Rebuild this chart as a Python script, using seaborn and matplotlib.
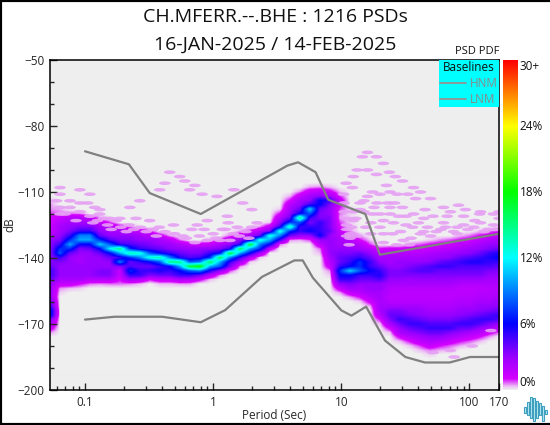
#!/usr/bin/env python3
# PSD PDF plot of CH.MFERR.--.BHE
import numpy as np
import pandas as pd
import matplotlib.pyplot as plt
import matplotlib as mpl
from matplotlib.colors import LinearSegmentedColormap
from matplotlib.lines import Line2D
from matplotlib.markers import MarkerStyle
from matplotlib.patches import Rectangle
from matplotlib.ticker import FixedLocator, FixedFormatter, NullFormatter
from matplotlib.transforms import Affine2D
import seaborn as sns

title_lines = ["CH.MFERR.--.BHE : 1216 PSDs", "16-JAN-2025 / 14-FEB-2025"]

# noise models
hnm_period = [0.1, 0.22, 0.32, 0.8, 3.8, 4.6, 6.3, 7.9, 15.4, 20, 170]
hnm_db = [-91.5, -97.4, -110.5, -120, -98, -96.5, -101, -113.5, -120, -138.5, -129]
lnm_period = [0.1, 0.17, 0.4, 0.8, 1.24, 2.4, 4.3, 5, 6, 10, 12, 15.6, 21.9, 31.6, 45, 70, 101, 170]
lnm_db = [-168, -166.7, -166.7, -169.2, -163.7, -148.6, -141.1, -141.1, -149, -163.8, -166.2, -162.1,
          -177.5, -185, -187.5, -187.5, -185, -185]

# pdf grid, one column per period, db rows every 2 dB from -104 down to -190
pdf_period = [0.0533, 0.0638, 0.0763, 0.0912, 0.1091, 0.1306, 0.1562, 0.1869, 0.2236, 0.2675,
              0.32, 0.3828, 0.4579, 0.5478, 0.6554, 0.784, 0.9379, 1.122, 1.342, 1.606,
              1.921, 2.298, 2.749, 3.289, 3.934, 4.706, 5.63, 6.735, 8.057, 9.639,
              11.53, 13.79, 16.5, 19.74, 23.62, 28.25, 33.8, 40.43, 48.37, 57.86,
              69.22, 82.81, 99.07, 118.5, 141.8, 170]
pdf_db = list(range(-104, -192, -2))

# first db row of each column, then the percent values downward from it
col_start = [5, 7, 8, 8, 9, 9, 10, 11, 11, 12, 12, 13, 13, 14, 15, 15, 14, 14, 13, 12,
             12, 11, 10, 7, 4, 3, 2, 2, 2, 3, 7, 13, 14, 16, 16, 16, 15, 15, 14, 14,
             14, 13, 13, 12, 12, 11]
col_values = [
    [.3, .5, .5, .8, 1, 1.2, 1.5, 1.5, 2, 3, 3, 3, 3, 3, 3.5, 4, 5, 5, 4, 3, 3, 3, 3, 4, 5, 7, 7, 4, 2.5, 1.5, .5],
    [.4, .6, 1.5, 2, 2.5, 2.5, 3, 3.5, 5, 7, 8, 5, 3.5, 3, 3, 3, 2.5, 1.5, .5, .2],
    [.6, 2, 2.5, 3, 3.5, 5, 7, 10, 7, 4, 3, 3, 3, 3, 3, 2.5, 1.5, .3],
    [.6, 2, 2.5, 3.5, 5, 9, 10, 6, 3.5, 3, 2.5, 2.5, 3, 3, 3, 2.5, 1, .2],
    [1.5, 2.5, 3.5, 5, 9, 10, 6, 4, 3, 3, 3, 3, 3, 3, 2, .6],
    [.5, 1.5, 2.5, 3, 4, 7, 11, 6, 4, 3, 3, 3, 3.5, 3.5, 2, .5],
    [.8, 2, 2.5, 3, 4.5, 8, 12, 6, 4, 3, 3, 3.5, 3.5, 2, .6],
    [1.3, 2.5, 3, 3.5, 5, 15, 10, 5, 9, 3.5, 1.5, 1.5, 1, .6],
    [.6, 2, 3, 3.5, 4.5, 7, 14, 7, 4, 4.5, 7, 5, 2.5, .5],
    [1.5, 2.5, 3, 4, 5, 13, 9, 5, 4, 5, 5, 2, .3],
    [1, 2, 3, 3.5, 4.5, 8, 13, 6, 4, 5, 3.5, 1],
    [1.3, 2.5, 3, 4, 6, 14, 8, 5, 5.5, 4, 1.5, .3],
    [.4, 1.8, 2.8, 3.2, 5, 9, 15, 6, 5, 4, 1.5, .3],
    [.6, 2.2, 3, 4, 5.5, 15, 10, 6, 5, 2.2, .4],
    [1.5, 2.8, 3.5, 4.5, 8, 17, 8, 5, 2, .4],
    [1.2, 3, 3.5, 5, 9, 18, 9, 4, 1.2],
    [.3, 1.5, 3, 5, 7, 16, 10, 5.5, 2, .3],
    [.8, 2.2, 3.5, 6, 16, 10, 8, 3, .5],
    [.6, 1.8, 3, 5, 17, 9, 5, 3.5, .8],
    [.4, 1.4, 3, 5, 16, 10, 5, 2.5, .5],
    [1, 2.5, 4.5, 17, 10, 6, 2, .2],
    [.5, 2, 4, 13, 9, 7, 2.5, .2],
    [.2, 1.5, 3.5, 13, 10, 6, 1.5],
    [.2, 1, 2, 3, 5, 13, 9, 5, .6],
    [.3, 1, 2, 2.5, 3, 4, 7, 14, 7, 4, .5],
    [.5, 1.5, 2.5, 3, 4, 6, 15, 8, 5, 5, 3, .4],
    [.4, 1.5, 2.5, 3, 5, 11, 8, 5, 3.5, 5, 6, 3, .8],
    [.5, 1.8, 3, 6, 6, 4, 3.5, 3.5, 5, 5, 5, 6, 3, 1.8, .6, .3],
    [.3, 1.2, 2.5, 5, 3.5, 3, 3, 3.5, 3.5, 3.5, 4, 3, 3, 3, 3, 3, 2.5, 2, 1.5, .5, .2],
    [.3, .8, 1.5, 1.2, .8, .6, .4, .8, 1, 1.5, 2, 2.5, 2.5, 3, 3.5, 4, 4, 5, 7, 6, 5, 3, 1.5, .4],
    [.2, .2, .2, .2, .3, .5, 1.2, 2, 2.5, 3, 3.5, 4.5, 5, 6, 11, 6, 5, 3.5, 2.8, 1.5, .4],
    [.4, 1, 2, 2.5, 4, 5, 7, 7, 8, 5, 4, 3, 2.5, 2, 1, .2],
    [.3, .8, 2, 3, 4, 5, 5, 6, 5, 4, 3, 3, 2.5, 2, 1.2, .4],
    [1, 2, 2.5, 3, 4, 5, 5.5, 4.5, 3, 3, 2.5, 2.5, 2.5, 2.5, 2.5, 2, 1, .3],
    [1.2, 2, 2.5, 2.5, 3, 3.5, 3.5, 3, 2.5, 2, 2, 1.8, 2, 2.5, 3.5, 4, 3.5, 2.5, 1.2, .3],
    [1.2, 2, 2.5, 3, 3, 3.5, 3.5, 3, 2.5, 2, 1.8, 1.8, 2, 2.5, 3.5, 4, 5, 4, 3, 2.5, 1.2, .3],
    [.5, 1.3, 2, 2.5, 3, 3.5, 4, 3.5, 2.8, 2.5, 2, 1.8, 1.8, 2, 2.5, 3, 3.5, 4.5, 5, 4, 3, 2, 1, .3],
    [.7, 1.4, 2, 2.5, 3, 4, 4.5, 3.5, 3, 2.5, 2, 1.8, 1.8, 2, 2.5, 3, 3.2, 4, 5, 4.5, 3.5, 2.5, 1.8, .8, .3],
    [.2, 1, 1.5, 2.2, 2.8, 3.2, 4.5, 4.5, 3.5, 3, 2.5, 2, 1.8, 1.8, 2, 2.2, 2.5, 3, 3.5, 4.5, 5, 4, 3, 2.2, 1.5, .6, .2],
    [.5, 1.2, 1.8, 2.5, 3, 4, 5, 4, 3.5, 3, 2.5, 2, 1.8, 1.8, 2, 2.2, 2.5, 3, 3.5, 4.5, 5, 4, 3, 2, 1, .4],
    [.7, 1.3, 2, 2.8, 3.2, 4.5, 5, 4, 3.5, 3, 2.5, 2, 1.8, 1.8, 2, 2.2, 2.5, 3, 3.5, 4.5, 5, 3.5, 2.5, 1.5, .7, .3],
    [.3, 1, 1.8, 2.3, 3, 4, 5, 4.5, 4, 3.5, 2.8, 2.2, 1.8, 1.8, 2, 2.2, 2.5, 3, 3.2, 4, 5, 4, 3, 2, 1, .4],
    [.6, 1.2, 2, 2.8, 3.2, 4.5, 5.5, 4.5, 4, 3.5, 2.8, 2.2, 1.8, 1.8, 2, 2.2, 2.5, 3, 3.5, 4.5, 5, 4, 2.5, 1.5, .7, .2],
    [.3, 1, 1.8, 2.5, 3, 4, 5, 5.5, 4.5, 4, 3.5, 2.8, 2.2, 1.8, 2, 2.2, 2.5, 3, 3.2, 4, 5, 4.5, 3, 2, 1, .3],
    [.6, 1.3, 2.2, 3, 3.5, 5, 5.5, 5, 4.5, 3.5, 3, 2.5, 2.2, 2, 2, 2.2, 2.5, 3, 3.5, 4.5, 5, 3.5, 2.5, 1.2, .4],
    [.3, 1, 1.8, 2.5, 3, 4, 5.5, 6, 5, 4, 3.5, 3, 2.5, 2.2, 2, 2.2, 2.5, 3, 3.2, 4, 5, 4.5, 3, 1.8, .6],
]

# isolated low probability bins around the main cloud
speck_period = [.0638, .0912, .1091, .0638, .0763, .0912, .0638, .0763, .119, .1306, .0638, .0912, .1091,
                .1562, .1869, .2236, .2675, .3828, .42, .4579, .5478, .6, .72, .6554, .82, 1.07, 1.45,
                1.7, 2.0, 1.29, .9, .75, 1.31, 1.18, 1.54, 2.0, .49, .38, .32, .25, .14, .13, .19, .27,
                .58, 1.0, .78, 1.13, 1.6, .15, .22, .34, .115, .9, .68, 1.43,
                16, 14.6, 18.8, 21.3, 13.3, 16, 18.8, 23.7, 26.4, 12.4, 30, 10.9, 22.5, 12.2, 36.6, 17.5,
                24, 41.5, 33, 10.4, 16, 27.3, 49.7, 20, 23, 14, 62.7, 82, 71, 93, 30, 45, 122, 154, 24,
                14, 12.4, 17.5, 24, 36.6, 52, 67, 90, 32, 12.4, 21.3, 40, 62.7, 122, 25.5, 17, 36, 47,
                80, 108, 154, 11.7, 13.3, 21.3, 29, 41.5, 60, 97, 140, 30.5, 21.3, 34, 11.7, 15.5, 80,
                49.7, 147, 71, 52, 76, 105, 11, 11, 11,
                .06, .07, .085, .105, .125, .16, .175, .21, .24, .3, .36, .42, .5, .62, .72, .85, 1.05,
                1.25, 1.35, 1.8, 2.2, 1.9,
                10.5, 10.5, 11, 12, 13, 15, 15, 18, 20, 20, 19, 26, 28, 32, 38, 44, 55, 65, 75, 90, 110,
                130, 160, 170, 170, 120, 25, 35, 44, 17, 27, 11.5]
speck_db = [-108, -109, -111, -111, -114, -115, -117, -117, -117, -118, -120, -119, -121,
            -122, -122, -117, -114, -109, -106, -101, -103, -105, -107, -109, -111, -112, -109,
            -115, -118, -121, -123, -125, -124, -127, -126, -126, -125, -126, -123, -122, -122, -120, -126, -126,
            -130, -129, -130, -132, -130, -125, -125, -127, -124, -132, -127, -129,
            -92, -94, -94, -97, -100, -100, -102, -101, -103, -103, -105, -106, -107, -108, -108, -110,
            -110, -110, -111, -111, -112, -111, -113, -111, -115, -115, -117, -116, -119, -118, -117, -118, -119, -120, -117,
            -118, -119, -120, -120, -120, -121, -121, -121, -121, -123, -123, -124, -124, -124, -124, -124, -126, -126,
            -126, -126, -125, -129, -130, -129, -128, -129, -127, -127, -127, -132, -133, -134, -131, -126, -129,
            -130, -173, -182, -183, -185, -180, -125, -127, -130,
            -114, -120, -123, -115, -123, -127, -123, -128, -127, -128, -130, -128, -129, -131, -133, -127, -131,
            -127, -132, -128, -124, -131,
            -119, -115, -122, -126, -122, -114, -119, -117, -120, -126, -115, -115, -121, -125, -113, -122, -128, -126, -128, -125, -123,
            -128, -127, -122, -119, -120, -129, -131, -128, -129, -134, -134]

cbar_labels = ["0%", "6%", "12%", "18%", "24%", "30+"]
cbar_values = [0, 6, 12, 18, 24, 30]
x_ticks = [0.1, 1, 10, 100, 170]
x_labels = ["0.1", "1", "10", "100", "170"]
y_ticks = [-50, -80, -110, -140, -170, -200]

logo_x = [0, 1, 2, 3, 4, 5, 6, 7]
logo_top = [14, 19, 24, 23, 20, 18, 15, 12]
logo_bot = [9, 7, 4, 1, 4, 7, 1, 8]

W, H = 550, 425
sns.set_style("white")
plt.rcParams['font.family'] = ['Open Sans', 'DejaVu Sans']
plt.rcParams['text.color'] = '#111111'

nodes = [(0, '#EFEFEF'), (.3, '#EDBEF6'), (1, '#D400FF'), (3, '#9800FF'), (4.5, '#5000FF'), (6, '#0000FF'),
         (9, '#0080FF'), (12, '#00FFFF'), (15, '#00FF80'), (18, '#00FF00'), (21, '#80FF00'), (24, '#FFFF00'),
         (27, '#FF8000'), (30, '#FF0000')]
cmap = LinearSegmentedColormap.from_list('pqlx', [(v / 30, c) for v, c in nodes], N=1024)

pdf = np.zeros((len(pdf_db), len(pdf_period)))
for j, (start, col) in enumerate(zip(col_start, col_values)):
    pdf[start:start + len(col), j] = col

fig = plt.figure(figsize=(W / 100, H / 100), dpi=100, facecolor='white')
rect = [50 / W, (H - 390) / H, 449 / W, 330 / H]

# image axes in log10(period), the log axes sit on top of it
ax_img = fig.add_axes(rect, facecolor='#EEEEEE')
step = np.log10(pdf_period[1]) - np.log10(pdf_period[0])
ax_img.imshow(pdf, cmap=cmap, vmin=0, vmax=30, aspect='auto', interpolation='bilinear',
              interpolation_stage='data',
              extent=[np.log10(pdf_period[0]) - step / 2, np.log10(pdf_period[-1]) + step / 2,
                      pdf_db[-1] - 1, pdf_db[0] + 1])
ax_img.set_xlim(np.log10(pdf_period[0]), np.log10(pdf_period[-1]))
ax_img.set_ylim(-200, -50)
ax_img.axis('off')
ax_img.add_patch(Rectangle((0, 0), 1, 1, transform=ax_img.transAxes, color='#EEEEEE', zorder=-1))

ax = fig.add_axes(rect, facecolor='none')
speck_marker = MarkerStyle('o', transform=Affine2D().scale(3.2, 1))
sns.scatterplot(x=speck_period, y=speck_db, ax=ax, marker=speck_marker, s=7, color='#E6A0F4',
                edgecolor='none', alpha=.9, legend=False)
sns.lineplot(data=pd.DataFrame({'p': hnm_period, 'db': hnm_db}), x='p', y='db', ax=ax, color='#808080',
             lw=1.6, estimator=None, sort=False)
sns.lineplot(data=pd.DataFrame({'p': lnm_period, 'db': lnm_db}), x='p', y='db', ax=ax, color='#808080',
             lw=1.6, estimator=None, sort=False)

ax.set_xscale('log')
ax.set_xlim(pdf_period[0], pdf_period[-1])
ax.set_ylim(-200, -50)
ax.xaxis.set_major_locator(FixedLocator(x_ticks))
ax.xaxis.set_major_formatter(FixedFormatter(x_labels))
ax.xaxis.set_minor_locator(mpl.ticker.LogLocator(base=10, subs=range(2, 10), numticks=12))
ax.xaxis.set_minor_formatter(NullFormatter())
ax.set_yticks(y_ticks)
ax.set_yticks(range(-190, -50, 10), minor=True)
ax.tick_params(which='major', direction='in', length=5, width=1, labelsize=8.5, pad=4, left=True, bottom=True)
ax.tick_params(which='minor', direction='in', length=3, width=1, left=True, bottom=True)
ax.set_xlabel('Period (Sec)', fontsize=8.5, labelpad=0)
ax.set_ylabel('dB', fontsize=8.5)
ax.yaxis.set_label_coords(-34 / 449, .5)
for s in ax.spines.values():
    s.set_visible(True)
    s.set_color('k')
    s.set_linewidth(1.1)

ax.legend(handles=[Line2D([], [], color='#A08A8A', lw=1.2, label='HNM'),
                   Line2D([], [], color='#A08A8A', lw=1.2, label='LNM')],
          title='Baselines', loc='upper right', bbox_to_anchor=(1, 1), borderaxespad=0, fontsize=8.5,
          title_fontsize=8.5, facecolor='#00FFFF', edgecolor='none', framealpha=1, fancybox=False,
          labelcolor='#8A8A8A', handlelength=2.2, handletextpad=.35, labelspacing=.25, borderpad=.1)

fig.text(275.5 / W, 1 - 17 / H, title_lines[0], ha='center', va='center', fontsize=14)
fig.text(275.5 / W, 1 - 45 / H, title_lines[1], ha='center', va='center', fontsize=14)
fig.text(477 / W, 1 - 51 / H, 'PSD PDF', ha='center', va='center', fontsize=8)

# colour scale
ax_c = fig.add_axes([503 / W, (H - 390) / H, 15 / W, 330 / H])
ax_c.imshow(np.linspace(30, 0, 660)[:, None], cmap=cmap, vmin=0, vmax=30, aspect='auto',
            extent=[0, 1, 0, 30])
ax_c.set_ylim(0, 30)
ax_c.set_xticks([])
ax_c.set_yticks([])
for s in ax_c.spines.values():
    s.set_visible(False)
for v, lab in zip(cbar_values, cbar_labels):
    y = v + .7 if v == 0 else (v - .55 if v == 30 else v)
    ax_c.text(1.12, y, lab, transform=ax_c.get_yaxis_transform(), ha='left', va='center', fontsize=8.5)

# logo
ax_l = fig.add_axes([523 / W, (H - 422) / H, 25 / W, 26 / H])
ax_l.bar(logo_x, np.subtract(logo_top, logo_bot), bottom=logo_bot, width=.8, facecolor='#BDEBF3',
         edgecolor='#3F9FBF', lw=.8)
ax_l.set_xlim(-.6, 7.6)
ax_l.set_ylim(0, 25)
ax_l.axis('off')

# black frame on left, top and bottom of the picture
fig.add_artist(Rectangle((0, 0), 1.1, 1, transform=fig.transFigure, fill=False, ec='k', lw=3))

fig.savefig('out.png', dpi=100)
